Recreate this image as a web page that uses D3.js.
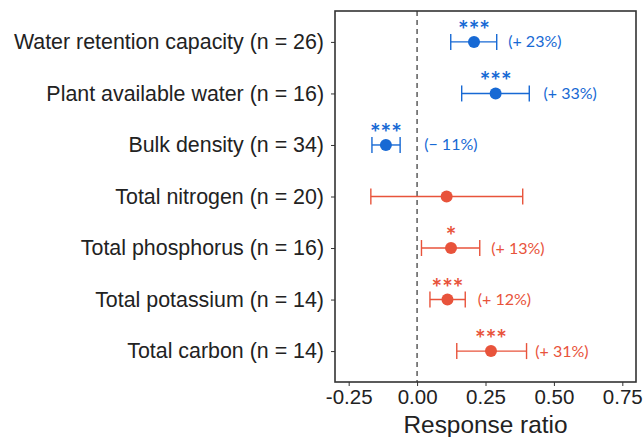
<!DOCTYPE html>
<html><head><meta charset="utf-8">
<script src="https://cdn.jsdelivr.net/npm/d3@7"></script>
<style>body{margin:0;background:#fff}</style>
</head><body>
<svg id="c" width="644" height="437"></svg>
<script>
const categories = ["Water retention capacity (n = 26)","Plant available water (n = 16)","Bulk density (n = 34)","Total nitrogen (n = 20)","Total phosphorus (n = 16)","Total potassium (n = 14)","Total carbon (n = 14)"];
const means = [0.208, 0.287, -0.114, 0.108, 0.124, 0.111, 0.270];
const lower = [0.123, 0.163, -0.165, -0.169, 0.016, 0.047, 0.145];
const upper = [0.291, 0.410, -0.062, 0.386, 0.229, 0.176, 0.400];
const groups = ["water","water","water","nutrient","nutrient","nutrient","nutrient"];
const stars = ["***","***","***","","*","***","***"];
const pctLabels = ["(+ 23%)","(+ 33%)","(\u2212 11%)","","(+ 13%)","(+ 12%)","(+ 31%)"];
const pctLabelX = [0.333, 0.462, 0.026, null, 0.271, 0.222, 0.432];
const xTicks = [-0.25, 0, 0.25, 0.5, 0.75];
const colors = {water:"#1769d4", nutrient:"#e8533b"};

const svg = d3.select("#c");
const L=335, R=636, T=11, B=382;
const x = d3.scaleLinear().domain([-0.3,0.8]).range([L,R]);
const y = d3.scalePoint().domain(categories).range([T,B]).padding(0.6);

svg.append("line").attr("x1",x(0)).attr("x2",x(0)).attr("y1",T).attr("y2",B)
  .attr("stroke","#666").attr("stroke-width",1.6).attr("stroke-dasharray","5,4");

const rows = categories.map((c,i)=>({c,m:means[i],lo:lower[i],hi:upper[i],g:groups[i],s:stars[i],p:pctLabels[i],px:pctLabelX[i]}));
const g = svg.append("g");
rows.forEach(d=>{
  const col = colors[d.g], yy = y(d.c);
  g.append("line").attr("x1",x(d.lo)).attr("x2",x(d.hi)).attr("y1",yy).attr("y2",yy).attr("stroke",col).attr("stroke-width",1.4);
  [d.lo,d.hi].forEach(v=>g.append("line").attr("x1",x(v)).attr("x2",x(v)).attr("y1",yy-8).attr("y2",yy+8).attr("stroke",col).attr("stroke-width",1.4));
  g.append("circle").attr("cx",x(d.m)).attr("cy",yy).attr("r",6).attr("fill",col);
  if(d.s) g.append("text").attr("x",x(d.m)).attr("y",yy-3).attr("text-anchor","middle")
    .attr("font-family","Lato, 'Open Sans', sans-serif").attr("font-size",25).attr("font-weight","bold").attr("fill",col).text(d.s);
  if(d.p) g.append("text").attr("x",x(d.px)).attr("y",yy+5.5).attr("font-family","Lato, 'Open Sans', sans-serif")
    .attr("font-size",16).attr("fill",col).text(d.p);
});

svg.append("rect").attr("x",L).attr("y",T).attr("width",R-L).attr("height",B-T).attr("fill","none").attr("stroke","#333").attr("stroke-width",1.6);

const xa = svg.append("g").attr("transform",`translate(0,${B})`)
  .call(d3.axisBottom(x).tickValues(xTicks).tickSize(4).tickPadding(3).tickFormat(d3.format(".2f")));
xa.select(".domain").remove();
xa.selectAll("line").attr("stroke","#333");
xa.selectAll("text").attr("font-family","'Liberation Sans', Arial, sans-serif").attr("font-size",20.5).attr("fill","#222")
  .text(d=> d<0 ? "-"+d3.format(".2f")(-d) : d3.format(".2f")(d));

const ya = svg.append("g").attr("transform",`translate(${L},0)`)
  .call(d3.axisLeft(y).tickSize(4).tickPadding(7));
ya.select(".domain").remove();
ya.selectAll("line").attr("stroke","#333");
ya.selectAll("text").attr("font-family","'Liberation Sans', Arial, sans-serif").attr("font-size",21.4).attr("fill","#222");

svg.append("text").attr("x",(L+R)/2).attr("y",433).attr("text-anchor","middle")
  .attr("font-family","'Liberation Sans', Arial, sans-serif").attr("font-size",24.4).attr("fill","#222").text("Response ratio");
</script>
</body></html>
